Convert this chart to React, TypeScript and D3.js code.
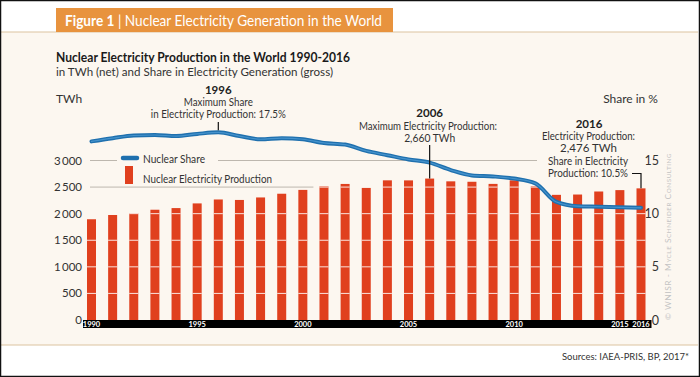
import React from "react";
import * as d3 from "d3";

const years = [1990,1991,1992,1993,1994,1995,1996,1997,1998,1999,2000,2001,2002,2003,2004,2005,2006,2007,2008,2009,2010,2011,2012,2013,2014,2015,2016];
const production = [1895,1975,2007,2074,2105,2193,2267,2258,2305,2375,2447,2515,2559,2484,2627,2626,2660,2608,2600,2560,2627,2515,2354,2360,2417,2443,2476];
const share = [16.8,17.1,17.35,17.4,17.3,17.5,17.65,17.3,17.0,17.1,17.0,16.65,16.5,15.9,15.5,15.1,14.8,14.1,13.6,13.5,13.3,12.85,11.1,10.7,10.65,10.6,10.55];
const leftTicks = [0,500,1000,1500,2000,2500,3000];
const rightTicks = [0,5,10,15];
const xLabels = [1990,1995,2000,2005,2010,2015,2016];

const FONT = "Lato, 'Open Sans', sans-serif";
const CREAM = "#fcf7f0";
const RED = "#e0401e";
const BLUE = "#1f70ae";

function T(props: any) {
  const { w, children, ...rest } = props;
  const extra: any = w ? { textLength: w, lengthAdjust: "spacingAndGlyphs" } : {};
  return (
    <text fontFamily={FONT} fill="#222" {...extra} {...rest}>
      {children}
    </text>
  );
}

export default function App() {
  const x = d3.scaleLinear().domain([1990, 2016]).range([91.5, 641]);
  const yL = d3.scaleLinear().domain([0, 3000]).range([320, 160.5]);
  const yR = d3.scaleLinear().domain([0, 15]).range([320, 160.5]);
  const barW = 9;
  const fmt = (v: number) => (v >= 1000 ? d3.format(",")(v).replace(",", "\u2009") : String(v));

  const line = d3
    .line<number>()
    .x((_, i) => x(years[i]))
    .y((d) => yR(d))
    .curve(d3.curveMonotoneX);
  const sharePath = line(share) || "";

  const i1996 = years.indexOf(1996);
  const i2006 = years.indexOf(2006);
  const i2016 = years.indexOf(2016);

  return (
    <svg width={700} height={377} style={{ position: "absolute", left: 0, top: 0, display: "block" }}>
      <rect x={0} y={0} width={700} height={377} fill="#fff" />
      <rect x={1} y={32} width={697} height={313} fill={CREAM} />
      <line x1={1} x2={698} y1={32} y2={32} stroke="#dcc39f" strokeWidth={1.2} />
      <line x1={1} x2={698} y1={345} y2={345} stroke="#dcc39f" strokeWidth={1.2} />
      <rect x={0.5} y={0.5} width={699} height={376} fill="none" stroke="#111" strokeWidth={1.5} />

      {/* title tab */}
      <rect x={56} y={8} width={337} height={24} fill="#e8933e" />
      <T x={65} y={26} fontSize={15} fill="#fff" w={317}>
        <tspan fontWeight="bold">Figure 1</tspan> | Nuclear Electricity Generation in the World
      </T>

      <T x={56} y={62} fontSize={13.5} fontWeight="bold" fill="#1a1a1a" w={294}>
        Nuclear Electricity Production in the World 1990-2016
      </T>
      <T x={56} y={76} fontSize={11.5} fill="#333" w={277}>
        in TWh (net) and Share in Electricity Generation (gross)
      </T>
      <T x={56} y={103} fontSize={12} fill="#333">TWh</T>
      <T x={658} y={103} fontSize={12} fill="#333" textAnchor="end">Share in %</T>

      {/* gray gridlines */}
      <line x1={90} x2={117} y1={yL(3000)} y2={yL(3000)} stroke="#bdb7ae" strokeWidth={1} />
      <line x1={218} x2={537} y1={yL(3000)} y2={yL(3000)} stroke="#bdb7ae" strokeWidth={1} />
      <line x1={90} x2={x(2000.5)} y1={yL(2500)} y2={yL(2500)} stroke="#bdb7ae" strokeWidth={1} />

      {/* left axis labels */}
      {leftTicks.map((t) => (
        <T key={"l" + t} x={82} y={yL(t) + 4} fontSize={11.5} fill="#333" textAnchor="end">
          {fmt(t)}
        </T>
      ))}
      {/* right axis labels */}
      {rightTicks.map((t) => (
        <T key={"r" + t} x={659} y={yR(t) + 4.5} fontSize={12.5} fill="#333" textAnchor="end">
          {t}
        </T>
      ))}

      {/* bars */}
      {years.map((yr, i) => (
        <rect key={"b" + yr} x={x(yr) - barW / 2} y={yL(production[i])} width={barW} height={yL(0) - yL(production[i])} fill={RED} />
      ))}
      {/* white gridlines over bars */}
      {years.map((yr, i) =>
        leftTicks
          .filter((t) => t > 0 && t < production[i])
          .map((t) => (
            <line key={"w" + yr + t} x1={x(yr) - barW / 2} x2={x(yr) + barW / 2} y1={yL(t)} y2={yL(t)} stroke="#fff" strokeWidth={1} opacity={0.85} />
          ))
      )}

      {/* share line */}
      <path d={sharePath} fill="none" stroke={BLUE} strokeWidth={4} strokeLinecap="round" />
      <path d={sharePath} fill="none" stroke="#4f9bd3" strokeWidth={1.2} strokeLinecap="round" opacity={0.8} />

      {/* x-axis band */}
      <rect x={x(1990) - 8.5} y={320} width={x(2016) - x(1990) + 19} height={8} fill="#000" />
      {xLabels.map((yr) => (
        <T key={"x" + yr} x={x(yr)} y={327} fontSize={7.5} fontWeight="bold" fill="#fff" textAnchor="middle">
          {yr}
        </T>
      ))}

      {/* legend */}
      <rect x={117} y={151} width={101} height={15} fill={CREAM} />
      <line x1={123} x2={137} y1={158} y2={158} stroke={BLUE} strokeWidth={4.5} strokeLinecap="round" />
      <T x={143} y={162.5} fontSize={12} fill="#333" w={62}>Nuclear Share</T>
      <rect x={125} y={166} width={8} height={18} fill={RED} />
      <T x={143} y={182.5} fontSize={12} fill="#333" w={129}>Nuclear Electricity Production</T>

      {/* 1996 annotation */}
      <T x={x(1996)} y={94} fontSize={11.5} fontWeight="bold" textAnchor="middle" fill="#222">1996</T>
      <T x={x(1996)} y={106} fontSize={11} textAnchor="middle" fill="#333" w={69}>Maximum Share</T>
      <T x={x(1996)} y={118} fontSize={11} textAnchor="middle" fill="#333" w={135}>in Electricity Production: 17.5%</T>
      <line x1={x(1996)} x2={x(1996)} y1={122} y2={yR(share[i1996]) - 2} stroke="#111" strokeWidth={1.2} />

      {/* 2006 annotation */}
      <T x={x(2006)} y={117} fontSize={11.5} fontWeight="bold" textAnchor="middle" fill="#222">2006</T>
      <T x={428} y={130} fontSize={11} textAnchor="middle" fill="#333" w={138}>Maximum Electricity Production:</T>
      <T x={x(2006)} y={142} fontSize={11} textAnchor="middle" fill="#333" w={51}>2,660 TWh</T>
      <line x1={x(2006)} x2={x(2006)} y1={145} y2={yL(production[i2006])} stroke="#111" strokeWidth={1.2} />

      {/* 2016 annotation */}
      <T x={589} y={128} fontSize={11.5} fontWeight="bold" textAnchor="middle" fill="#222">2016</T>
      <T x={588.5} y={140} fontSize={11} textAnchor="middle" fill="#333" w={93}>Electricity Production:</T>
      <T x={588.5} y={152} fontSize={11} textAnchor="middle" fill="#333" w={57}>2,476 TWh</T>
      <T x={588} y={164.5} fontSize={11} textAnchor="middle" fill="#333" w={80}>Share in Electricity</T>
      <T x={588} y={176.5} fontSize={11} textAnchor="middle" fill="#333" w={80}>Production: 10.5%</T>
      <path d={`M632,173.5 H${x(2016)} V${yL(production[i2016])}`} fill="none" stroke="#111" strokeWidth={1.2} />

      {/* watermark */}
      <T transform="translate(671,320) rotate(-90)" x={0} y={0} fontSize={8} fill="#c4c4c4" w={167} style={{ fontVariant: "small-caps", letterSpacing: "0.5px" }}>
        © WNISR - Mycle Schneider Consulting
      </T>

      {/* sources */}
      <T x={689} y={360} fontSize={10} fill="#333" textAnchor="end" w={127}>Sources: IAEA-PRIS, BP, 2017*</T>
    </svg>
  );
}
